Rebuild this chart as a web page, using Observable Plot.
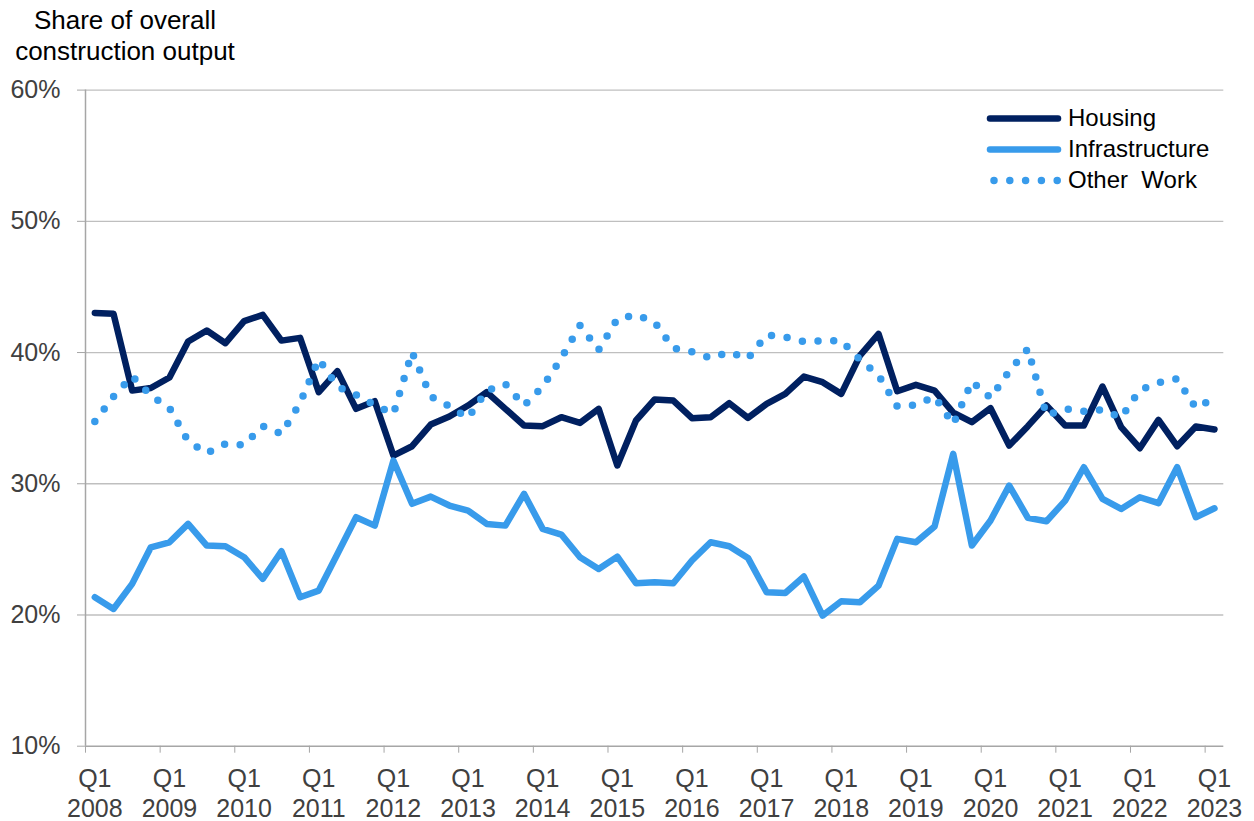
<!DOCTYPE html>
<html><head><meta charset="utf-8">
<script src="https://cdn.jsdelivr.net/npm/d3@7"></script>
<script src="https://cdn.jsdelivr.net/npm/@observablehq/plot@0.6"></script>
<style>
body{margin:0;background:#fff;font-family:"Liberation Sans",Arial,sans-serif;}
#wrap{position:relative;width:1254px;height:821px;overflow:hidden;}
#title{position:absolute;left:0;top:0;width:250px;text-align:center;font-size:26px;line-height:31px;padding-top:4.5px;color:#000;}
#chart{position:absolute;left:0;top:70px;}
#legend{position:absolute;left:985px;top:102.6px;font-size:24px;color:#000;}
#legend .row{display:flex;align-items:center;height:31px;}
#legend svg{display:block;}
</style></head><body>
<div id="wrap">
<div id="title">Share of overall<br>construction output</div>
<div id="chart"></div>
<div id="legend"></div>
</div>
<script>
// Quarterly shares of overall construction output (%), Q1 2008 .. Q1 2023
const housing = [43.02, 42.95, 37.10, 37.30, 38.10, 40.84, 41.68, 40.71, 42.39, 42.87, 40.91, 41.12, 36.98, 38.58, 35.71, 36.29,
  32.15, 32.86, 34.51, 35.12, 35.96, 36.98, 35.71, 34.44, 34.39, 35.07, 34.64, 35.71, 31.39, 34.82, 36.42, 36.34,
  35.00, 35.07, 36.14, 35.02, 36.09, 36.85, 38.17, 37.74, 36.85, 39.77, 41.42, 37.05, 37.54, 37.10, 35.42, 34.69,
  35.76, 32.91, 34.39, 35.96, 34.44, 34.44, 37.41, 34.31, 32.71, 34.87, 32.86, 34.36, 34.13];
const infrastructure = [21.35, 20.46, 22.37, 25.16, 25.54, 26.94, 25.29, 25.24, 24.40, 22.75, 24.86, 21.35, 21.86, 24.65, 27.45, 26.81,
  31.77, 28.47, 29.02, 28.34, 27.96, 26.94, 26.81, 29.23, 26.56, 26.13, 24.40, 23.51, 24.45, 22.42, 22.49, 22.42,
  24.15, 25.54, 25.24, 24.35, 21.73, 21.68, 22.93, 19.95, 21.05, 20.97, 22.24, 25.80, 25.54, 26.74, 32.28, 25.29,
  27.20, 29.86, 27.40, 27.14, 28.72, 31.26, 28.85, 28.08, 28.97, 28.52, 31.26, 27.45, 28.13];
const otherWork = [34.74, 36.65, 38.20, 36.72, 35.78, 33.24, 32.33, 33.04, 32.96, 34.39, 33.80, 36.16, 39.50, 37.41, 36.77, 36.00,
  35.32, 40.03, 36.65, 35.90, 35.02, 37.10, 37.60, 35.96, 37.40, 39.57, 42.06, 40.20, 42.57, 42.87, 42.31, 40.33,
  40.05, 39.59, 40.03, 39.54, 41.35, 41.17, 40.84, 40.90, 40.90, 39.47, 38.25, 35.90, 36.00, 36.65, 34.54, 37.79,
  36.54, 38.58, 40.28, 35.20, 35.71, 35.53, 35.63, 35.05, 37.15, 37.70, 38.00, 35.78, 36.52];
const seriesNames = ["Housing", "Infrastructure", "Other  Work"];
const yTicks = [10, 20, 30, 40, 50, 60];
const xTickLabels = ["Q1\n2008","Q1\n2009","Q1\n2010","Q1\n2011","Q1\n2012","Q1\n2013","Q1\n2014","Q1\n2015",
  "Q1\n2016","Q1\n2017","Q1\n2018","Q1\n2019","Q1\n2020","Q1\n2021","Q1\n2022","Q1\n2023"];

const colors = {housing: "#002060", infra: "#389BEB"};
const toRows = arr => arr.map((v, i) => ({i, v}));
const n = housing.length;
const labelPos = xTickLabels.map((_, k) => k * 4);
const labelMap = new Map(labelPos.map((p, k) => [p, xTickLabels[k]]));
const boundaryPos = labelPos.map(p => p - 0.5);

const chart = Plot.plot({
  width: 1254, height: 751,
  marginLeft: 85, marginRight: 30.7, marginTop: 19.6, marginBottom: 75.3,
  style: {fontFamily: "'Liberation Sans', Arial, sans-serif", fontSize: "25px", color: "#404040", background: "#fff", overflow: "visible"},
  x: {domain: [-0.5, n - 0.5], label: null},
  y: {domain: [10, 60], label: null},
  marks: [
    Plot.gridY(yTicks.slice(1), {stroke: "#BFBFBF", strokeOpacity: 1, strokeWidth: 1.3}),
    Plot.ruleY([10], {stroke: "#A6A6A6", strokeWidth: 1.5}),
    Plot.ruleX([-0.5], {stroke: "#A6A6A6", strokeWidth: 1.5}),
    Plot.axisY(yTicks, {tickSize: 8, tickPadding: 17, tickFormat: d => d + "%", stroke: "#A6A6A6", fill: "#404040", label: null}),
    Plot.axisX(boundaryPos, {tickSize: 7, tickFormat: () => "", stroke: "#A6A6A6", label: null}),
    Plot.axisX(labelPos, {tickSize: 0, tickPadding: 19.5, tickFormat: d => labelMap.get(d), lineHeight: 1.2, fill: "#404040", label: null}),
    Plot.line(toRows(housing), {x: "i", y: "v", stroke: colors.housing, strokeWidth: 6.5, strokeLinejoin: "round", strokeLinecap: "round"}),
    Plot.line(toRows(infrastructure), {x: "i", y: "v", stroke: colors.infra, strokeWidth: 6.5, strokeLinejoin: "round", strokeLinecap: "round"}),
    Plot.line(toRows(otherWork), {x: "i", y: "v", stroke: colors.infra, strokeWidth: 7.5, strokeLinecap: "round", strokeDasharray: "0 15.7"})
  ]
});
document.getElementById("chart").appendChild(chart);

// legend
const legend = document.getElementById("legend");
const styles = [
  {stroke: colors.housing, w: 6.5, dash: null, x1: 5, x2: 73},
  {stroke: colors.infra, w: 6.5, dash: null, x1: 5, x2: 73},
  {stroke: colors.infra, w: 7.5, dash: "0 15.8", x1: 9, x2: 72.3}
];
seriesNames.forEach((name, k) => {
  const s = styles[k];
  const row = document.createElement("div");
  row.className = "row";
  row.innerHTML = `<svg width="83" height="31"><line x1="${s.x1}" x2="${s.x2}" y1="15.5" y2="15.5" stroke="${s.stroke}" stroke-width="${s.w}" stroke-linecap="round" ${s.dash ? `stroke-dasharray="${s.dash}"` : ""}/></svg><span style="white-space:pre">${name}</span>`;
  legend.appendChild(row);
});
</script>
</body></html>
